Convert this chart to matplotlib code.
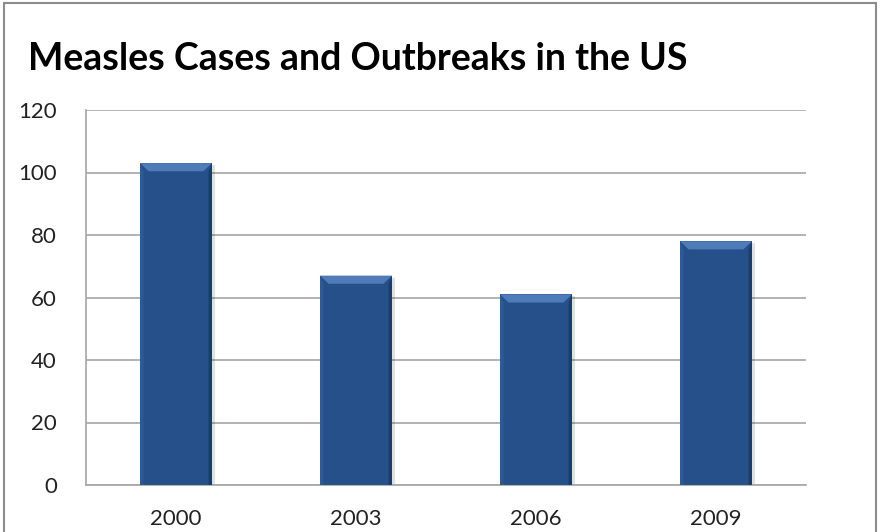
import matplotlib.pyplot as plt
from matplotlib.patches import Polygon, Rectangle

years = ['2000', '2003', '2006', '2009']
outbreaks = [103, 67, 61, 78]
yticks = [0, 20, 40, 60, 80, 100, 120]

plt.rcParams['font.family'] = ['Lato', 'DejaVu Sans']

fig = plt.figure(figsize=(8.8, 5.32), dpi=100)
# outer chart frame
fig.patches.append(Rectangle((0.004, -0.01), 0.992, 1.004, transform=fig.transFigure,
                             fill=False, edgecolor='#8c8c8c', linewidth=1.5))

ax = fig.add_axes([86 / 880, 1 - 485 / 532, 720 / 880, 375 / 532])
x = range(len(years))
bars = ax.bar(x, outbreaks, width=0.4, color='#26508a', zorder=3)

# simple bevel: lighter top slope, darker side edges, drop shadow
for b in bars:
    x0, w, h = b.get_x(), b.get_width(), b.get_height()
    d = w * 0.12
    dy = 2.6
    ax.add_patch(Rectangle((x0 + w * 0.04, 0), w, h - 0.6, color='#000000', alpha=0.12,
                           zorder=2, linewidth=0))
    ax.add_patch(Polygon([(x0, h), (x0 + w, h), (x0 + w - d, h - dy), (x0 + d, h - dy)],
                         closed=True, color='#4f7cb8', zorder=4, linewidth=0))
    ax.add_patch(Polygon([(x0, 0), (x0, h), (x0 + d * 0.4, h - dy), (x0 + d * 0.4, 0)],
                         closed=True, color='#2d5a94', zorder=4, linewidth=0))
    ax.add_patch(Polygon([(x0 + w, 0), (x0 + w, h), (x0 + w - d * 0.4, h - dy), (x0 + w - d * 0.4, 0)],
                         closed=True, color='#1c3d6b', zorder=4, linewidth=0))

ax.set_xlim(-0.5, len(years) - 0.5)
ax.set_ylim(0, 120)
ax.set_yticks(yticks)
ax.set_xticks(list(x))
ax.set_xticklabels(years)
ax.yaxis.grid(True, color='#a6a6a6', linewidth=1.2, zorder=0)
ax.set_axisbelow(True)
for s in ['top', 'right']:
    ax.spines[s].set_visible(False)
for s in ['left', 'bottom']:
    ax.spines[s].set_color('#a6a6a6')
    ax.spines[s].set_linewidth(1.2)
ax.tick_params(axis='both', length=0, labelsize=16, colors='#222222')
ax.tick_params(axis='y', pad=21)
ax.tick_params(axis='x', pad=17)

fig.text(28 / 880, 1 - 70 / 532, 'Measles Cases and Outbreaks in the US', fontsize=27,
         fontweight='bold', color='#000000', ha='left', va='baseline')

fig.savefig('out.png', dpi=100)
